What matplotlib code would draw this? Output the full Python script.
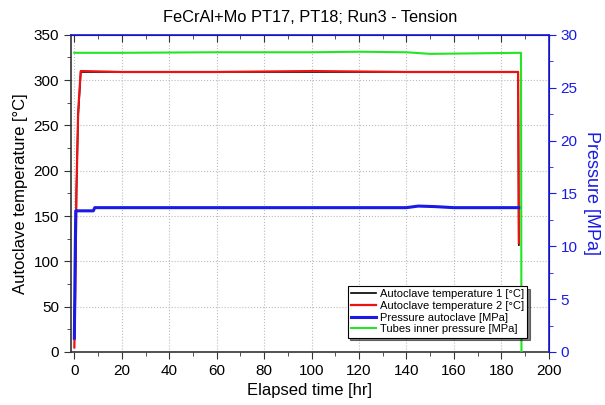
import numpy as np
import matplotlib.pyplot as plt
from matplotlib.ticker import MultipleLocator

plt.rcParams['font.family'] = ['Liberation Sans', 'DejaVu Sans']

# temperatures [C]
t_temp = [0.0, 0.4, 0.9, 1.6, 2.7, 3.5, 20, 60, 100, 140, 180, 187.1, 187.4]
temp1 = [20, 90, 180, 260, 309, 309, 309, 309, 309, 309, 309, 309, 118]
temp2 = [5, 70, 180, 265, 310, 310, 309, 309, 310, 309, 309, 309, 120]

# pressures [MPa]
t_pa = [0.0, 0.3, 0.6, 8.0, 8.6, 40, 100, 140, 145, 152, 160, 188.0]
p_auto = [1.3, 8.0, 13.35, 13.35, 13.65, 13.65, 13.65, 13.65, 13.8, 13.75, 13.65, 13.65]

t_ti = [0.0, 20, 60, 100, 120, 140, 150, 170, 188.3, 188.5]
p_tubes = [28.3, 28.3, 28.35, 28.35, 28.4, 28.35, 28.2, 28.25, 28.3, 0.0]

fig = plt.figure(figsize=(6.05, 4.05), dpi=100)
ax = fig.add_axes([0.117, 0.131, 0.790, 0.783])
ax2 = ax.twinx()

l1, = ax.plot(t_temp, temp1, color='black', lw=1.2, label='Autoclave temperature 1 [°C]')
l2, = ax.plot(t_temp, temp2, color='#ee1111', lw=1.6, label='Autoclave temperature 2 [°C]')
l3, = ax2.plot(t_pa, p_auto, color='#1a1ae6', lw=2.2, label='Pressure autoclave [MPa]')
l4, = ax2.plot(t_ti, p_tubes, color='#22e622', lw=1.5, label='Tubes inner pressure [MPa]')

ax.set_xlim(-1.5, 200)
ax.set_ylim(0, 350)
ax2.set_ylim(0, 30)

ax.xaxis.set_major_locator(MultipleLocator(20))
ax.xaxis.set_minor_locator(MultipleLocator(10))
ax.yaxis.set_major_locator(MultipleLocator(50))
ax.yaxis.set_minor_locator(MultipleLocator(25))
ax2.yaxis.set_major_locator(MultipleLocator(5))
ax2.yaxis.set_minor_locator(MultipleLocator(2.5))

ax.tick_params(axis='both', which='major', direction='out', length=5, labelsize=11, color='#333333')
ax.tick_params(axis='both', which='minor', direction='out', length=3, color='#333333')
ax.tick_params(axis='x', which='both', top=True, labeltop=False)
ax2.tick_params(axis='y', which='major', direction='out', length=5, labelsize=11,
                colors='#1a1ae6')
ax2.tick_params(axis='y', which='minor', direction='out', length=3, colors='#1a1ae6')

# top ticks point inward and are blue
for tk in ax.xaxis.get_major_ticks() + ax.xaxis.get_minor_ticks():
    tk.tick2line.set_marker(3)
    tk.tick2line.set_color('#1a1ae6')

ax.grid(True, which='major', linestyle=':', color='#bbbbbb', lw=0.8)

for sp in ['left', 'bottom']:
    ax.spines[sp].set_color('#333333')
    ax.spines[sp].set_linewidth(1.2)
ax2.spines['right'].set_color('#1a1ae6')
ax2.spines['top'].set_color('#1a1ae6')
ax2.spines['right'].set_linewidth(1.2)
ax2.spines['top'].set_linewidth(1.2)
ax2.spines['left'].set_visible(False)
ax2.spines['bottom'].set_visible(False)

ax.set_xlabel('Elapsed time [hr]', fontsize=12)
ax.set_ylabel('Autoclave temperature [°C]', fontsize=12)
ax2.set_ylabel('Pressure [MPa]', fontsize=13, color='#1a1ae6', rotation=270, labelpad=16)
ax.set_title('FeCrAl+Mo PT17, PT18; Run3 - Tension', fontsize=11.8, pad=9)

leg = ax2.legend(handles=[l1, l2, l3, l4], loc='lower right', bbox_to_anchor=(0.955, 0.045),
                 fontsize=8, frameon=True, fancybox=False, shadow={'color': 'black'},
                 borderpad=0.3, labelspacing=0.15, handlelength=2.3, handletextpad=0.3,
                 borderaxespad=0.0)
leg.get_frame().set_edgecolor('black')
leg.get_frame().set_linewidth(0.8)
leg.get_frame().set_alpha(1)

plt.savefig('out.png', dpi=100)
